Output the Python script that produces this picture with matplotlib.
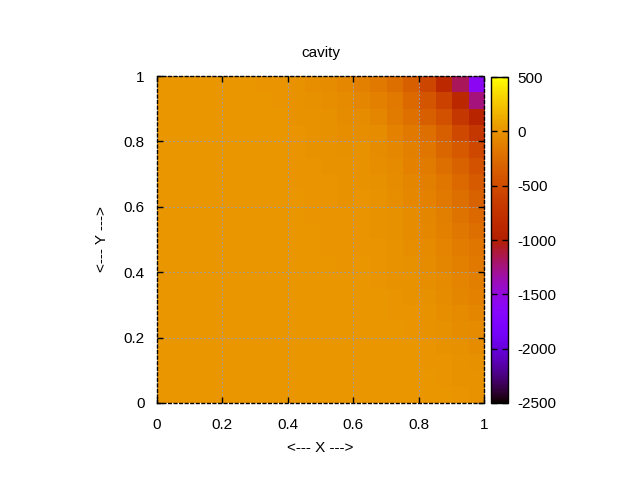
import matplotlib
matplotlib.use("Agg")
import matplotlib.pyplot as plt
import numpy as np
from matplotlib.colors import ListedColormap

plt.rcParams["font.family"] = ["Liberation Sans", "DejaVu Sans"]
plt.rcParams["font.size"] = 11
plt.rcParams["axes.unicode_minus"] = False

# cell values, top row (y ~ 1) first, columns left (x ~ 0) to right (x ~ 1)
values = [
    [10, 10, 10, 10, 10, 10, 5, 0, -15, -30, -45, -70, -115, -166, -232, -340, -551, -860, -1170, -1600],
    [10, 10, 10, 10, 10, 10, 10, 5, -10, -25, -35, -55, -80, -115, -166, -270, -420, -590, -880, -1240],
    [10, 10, 10, 10, 10, 10, 10, 10, -5, -15, -25, -40, -50, -85, -150, -220, -340, -460, -700, -940],
    [10, 10, 10, 10, 10, 10, 10, 10, 0, -10, -20, -30, -30, -50, -100, -166, -232, -340, -530, -700],
    [10, 10, 10, 10, 10, 10, 10, 10, 0, -5, -10, -20, -15, -42, -72, -115, -180, -290, -380, -530],
    [10, 10, 10, 10, 10, 10, 10, 10, 5, 0, -5, -15, -10, -30, -55, -100, -150, -230, -320, -440],
    [10, 10, 10, 10, 10, 10, 10, 10, 5, 5, 0, -10, -5, -20, -45, -80, -125, -190, -270, -370],
    [10, 10, 10, 10, 10, 10, 10, 10, 10, 5, 0, -5, 0, -15, -35, -65, -105, -160, -230, -310],
    [10, 10, 10, 10, 10, 10, 10, 10, 10, 5, 5, 0, 0, -10, -25, -50, -85, -130, -200, -270],
    [10, 10, 10, 10, 10, 10, 10, 10, 10, 10, 5, 5, 5, -5, -20, -40, -70, -110, -170, -230],
    [10, 10, 10, 10, 10, 10, 10, 10, 10, 10, 5, 5, 5, 0, -15, -30, -55, -90, -140, -190],
    [10, 10, 10, 10, 10, 10, 10, 10, 10, 10, 10, 5, 10, 5, -10, -20, -45, -75, -115, -160],
    [10, 10, 10, 10, 10, 10, 10, 10, 10, 10, 10, 10, 10, 5, -5, -15, -35, -60, -95, -130],
    [10, 10, 10, 10, 10, 10, 10, 10, 10, 10, 10, 10, 10, 10, 0, -10, -25, -45, -75, -100],
    [10, 10, 10, 10, 10, 10, 10, 10, 10, 10, 10, 10, 10, 10, 5, 0, -15, -35, -55, -80],
    [10, 10, 10, 10, 10, 10, 10, 10, 10, 10, 10, 10, 10, 10, 10, 5, -5, -20, -40, -60],
    [10, 10, 10, 10, 10, 10, 10, 10, 10, 10, 10, 10, 10, 10, 10, 10, 0, -10, -25, -40],
    [10, 10, 10, 10, 10, 10, 10, 10, 10, 10, 10, 10, 10, 10, 10, 10, 5, 0, -15, -25],
    [10, 10, 10, 10, 10, 10, 10, 10, 10, 10, 10, 10, 10, 10, 10, 10, 10, 5, -5, -15],
    [10, 10, 10, 10, 10, 10, 10, 10, 10, 10, 10, 10, 10, 10, 10, 10, 10, 10, 0, -5],
]

xticks = [0, 0.2, 0.4, 0.6, 0.8, 1]
xtick_labels = ["0", "0.2", "0.4", "0.6", "0.8", "1"]
cb_ticks = [-2500, -2000, -1500, -1000, -500, 0, 500]
cb_min, cb_max = -2500, 500

# gnuplot default palette (rgbformulae 7,5,15)
t = np.linspace(0, 1, 256)
pal = np.column_stack([np.sqrt(t), t ** 3, np.clip(np.sin(2 * np.pi * t), 0, 1)])
cmap = ListedColormap(pal)

fig = plt.figure(figsize=(6.4, 4.8), dpi=100)
ax = fig.add_axes([157 / 640, 77 / 480, 327 / 640, 327 / 480])
im = ax.imshow(np.array(values), cmap=cmap, vmin=cb_min, vmax=cb_max,
               extent=[0, 1, 0, 1], origin="upper", interpolation="nearest",
               aspect="auto")

ax.set_xlim(0, 1)
ax.set_ylim(0, 1)
ax.set_xticks(xticks)
ax.set_xticklabels(xtick_labels)
ax.set_yticks(xticks)
ax.set_yticklabels(xtick_labels)
ax.tick_params(axis="x", direction="in", length=4, width=1, top=True,
               pad=11, colors="black")
ax.tick_params(axis="y", direction="in", length=4, width=1, right=True,
               pad=9, colors="black")
ax.grid(True, color="#a0a0a0", linestyle=(0, (2, 2)), linewidth=0.7)
ax.set_axisbelow(False)
for s in ax.spines.values():
    s.set_linestyle((0, (2, 2)))
    s.set_linewidth(1)
    s.set_zorder(5)

ax.set_xlabel("<--- X --->", labelpad=6)
ax.set_ylabel("<--- Y --->", labelpad=10)
fig.text(320.5 / 640, 1 - 53 / 480, "cavity", ha="center", va="center")

cax = fig.add_axes([491 / 640, 77 / 480, 17 / 640, 326 / 480])
cb = fig.colorbar(im, cax=cax, ticks=cb_ticks)
cb.outline.set_linewidth(1)
cax.tick_params(direction="in", length=4, width=1, left=True, right=True,
                pad=7, labelsize=11)

plt.savefig("out.png", dpi=100)
